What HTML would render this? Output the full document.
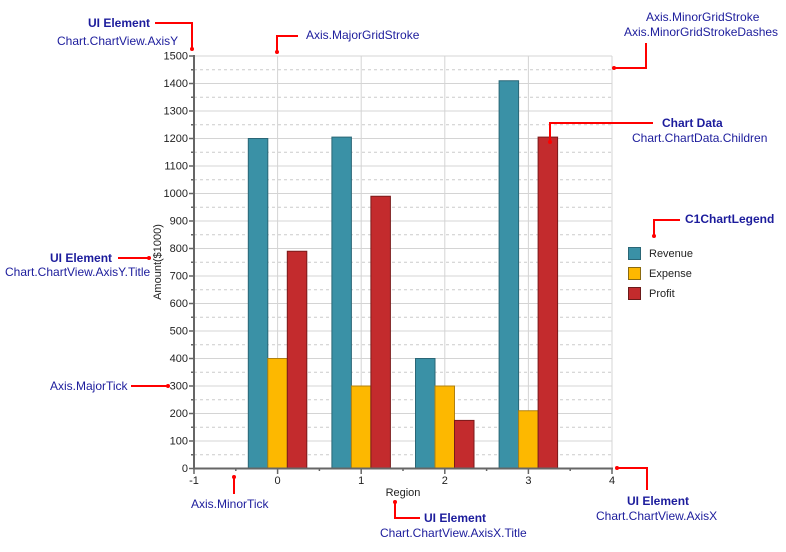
<!DOCTYPE html>
<html><head><meta charset="utf-8"><style>
html,body{margin:0;padding:0;background:#fff;}
svg{display:block;font-family:"Liberation Sans",sans-serif;}
.a{fill:#1c1c9c;font-size:12px;}
.b{fill:#1c1c9c;font-size:12px;font-weight:bold;}
.t{fill:#222;font-size:11px;}
.r{stroke:#f00;stroke-width:2;fill:none;}
</style></head><body>
<svg width="786" height="552" viewBox="0 0 786 552">
<g stroke="#ccc" stroke-width="1" stroke-dasharray="3,3">
<line x1="194" x2="612" y1="454.75" y2="454.75"/><line x1="194" x2="612" y1="427.25" y2="427.25"/><line x1="194" x2="612" y1="399.75" y2="399.75"/><line x1="194" x2="612" y1="372.25" y2="372.25"/><line x1="194" x2="612" y1="344.75" y2="344.75"/><line x1="194" x2="612" y1="317.25" y2="317.25"/><line x1="194" x2="612" y1="289.75" y2="289.75"/><line x1="194" x2="612" y1="262.25" y2="262.25"/><line x1="194" x2="612" y1="234.75" y2="234.75"/><line x1="194" x2="612" y1="207.25" y2="207.25"/><line x1="194" x2="612" y1="179.75" y2="179.75"/><line x1="194" x2="612" y1="152.25" y2="152.25"/><line x1="194" x2="612" y1="124.75" y2="124.75"/><line x1="194" x2="612" y1="97.25" y2="97.25"/><line x1="194" x2="612" y1="69.75" y2="69.75"/>
</g>
<g stroke="#d4d4d4" stroke-width="1">
<line x1="194" x2="612" y1="441" y2="441"/><line x1="194" x2="612" y1="413.5" y2="413.5"/><line x1="194" x2="612" y1="386" y2="386"/><line x1="194" x2="612" y1="358.5" y2="358.5"/><line x1="194" x2="612" y1="331" y2="331"/><line x1="194" x2="612" y1="303.5" y2="303.5"/><line x1="194" x2="612" y1="276" y2="276"/><line x1="194" x2="612" y1="248.5" y2="248.5"/><line x1="194" x2="612" y1="221" y2="221"/><line x1="194" x2="612" y1="193.5" y2="193.5"/><line x1="194" x2="612" y1="166" y2="166"/><line x1="194" x2="612" y1="138.5" y2="138.5"/><line x1="194" x2="612" y1="111" y2="111"/><line x1="194" x2="612" y1="83.5" y2="83.5"/><line x1="194" x2="612" y1="56" y2="56"/>
<line x1="277.6" x2="277.6" y1="56" y2="468"/><line x1="361.2" x2="361.2" y1="56" y2="468"/><line x1="444.8" x2="444.8" y1="56" y2="468"/><line x1="528.4" x2="528.4" y1="56" y2="468"/><line x1="612" x2="612" y1="56" y2="468"/>
</g>
<g stroke-width="1">
<g fill="#3a91a6" stroke="#2a6676">
<rect x="248.3" y="138.5" width="19.5" height="330"/><rect x="331.9" y="137.1" width="19.5" height="331.4"/><rect x="415.5" y="358.5" width="19.5" height="110"/><rect x="499.1" y="80.75" width="19.5" height="387.75"/>
</g>
<g fill="#fdb800" stroke="#b08010">
<rect x="267.8" y="358.5" width="19.5" height="110"/><rect x="351.4" y="386" width="19.5" height="82.5"/><rect x="435" y="386" width="19.5" height="82.5"/><rect x="518.6" y="410.75" width="19.5" height="57.75"/>
</g>
<g fill="#c32b2d" stroke="#7a1a1a">
<rect x="287.3" y="251.25" width="19.5" height="217.25"/><rect x="370.9" y="196.25" width="19.5" height="272.25"/><rect x="454.5" y="420.4" width="19.5" height="48.1"/><rect x="538.1" y="137.1" width="19.5" height="331.4"/>
</g>
</g>
<g stroke="#666" stroke-width="2">
<line x1="194" x2="194" y1="55" y2="469"/><line x1="193" x2="613" y1="468.5" y2="468.5"/>
</g>
<g stroke="#666" stroke-width="1.5">
<line x1="189" x2="194" y1="441" y2="441"/><line x1="189" x2="194" y1="413.5" y2="413.5"/><line x1="189" x2="194" y1="386" y2="386"/><line x1="189" x2="194" y1="358.5" y2="358.5"/><line x1="189" x2="194" y1="331" y2="331"/><line x1="189" x2="194" y1="303.5" y2="303.5"/><line x1="189" x2="194" y1="276" y2="276"/><line x1="189" x2="194" y1="248.5" y2="248.5"/><line x1="189" x2="194" y1="221" y2="221"/><line x1="189" x2="194" y1="193.5" y2="193.5"/><line x1="189" x2="194" y1="166" y2="166"/><line x1="189" x2="194" y1="138.5" y2="138.5"/><line x1="189" x2="194" y1="111" y2="111"/><line x1="189" x2="194" y1="83.5" y2="83.5"/><line x1="189" x2="194" y1="56" y2="56"/><line x1="189" x2="194" y1="468.5" y2="468.5"/>
<line x1="191" x2="194" y1="454.75" y2="454.75"/><line x1="191" x2="194" y1="427.25" y2="427.25"/><line x1="191" x2="194" y1="399.75" y2="399.75"/><line x1="191" x2="194" y1="372.25" y2="372.25"/><line x1="191" x2="194" y1="344.75" y2="344.75"/><line x1="191" x2="194" y1="317.25" y2="317.25"/><line x1="191" x2="194" y1="289.75" y2="289.75"/><line x1="191" x2="194" y1="262.25" y2="262.25"/><line x1="191" x2="194" y1="234.75" y2="234.75"/><line x1="191" x2="194" y1="207.25" y2="207.25"/><line x1="191" x2="194" y1="179.75" y2="179.75"/><line x1="191" x2="194" y1="152.25" y2="152.25"/><line x1="191" x2="194" y1="124.75" y2="124.75"/><line x1="191" x2="194" y1="97.25" y2="97.25"/><line x1="191" x2="194" y1="69.75" y2="69.75"/>
<line x1="194" x2="194" y1="468" y2="474"/><line x1="277.6" x2="277.6" y1="468" y2="474"/><line x1="361.2" x2="361.2" y1="468" y2="474"/><line x1="444.8" x2="444.8" y1="468" y2="474"/><line x1="528.4" x2="528.4" y1="468" y2="474"/><line x1="612" x2="612" y1="468" y2="474"/>
<line x1="235.8" x2="235.8" y1="468" y2="471"/><line x1="319.4" x2="319.4" y1="468" y2="471"/><line x1="403" x2="403" y1="468" y2="471"/><line x1="486.6" x2="486.6" y1="468" y2="471"/><line x1="570.2" x2="570.2" y1="468" y2="471"/>
</g>
<g class="t" text-anchor="end">
<text x="188" y="472">0</text><text x="188" y="444.5">100</text><text x="188" y="417">200</text><text x="188" y="389.5">300</text><text x="188" y="362">400</text><text x="188" y="334.5">500</text><text x="188" y="307">600</text><text x="188" y="279.5">700</text><text x="188" y="252">800</text><text x="188" y="224.5">900</text><text x="188" y="197">1000</text><text x="188" y="169.5">1100</text><text x="188" y="142">1200</text><text x="188" y="114.5">1300</text><text x="188" y="87">1400</text><text x="188" y="59.5">1500</text>
</g>
<g class="t" text-anchor="middle">
<text x="194" y="484">-1</text><text x="277.6" y="484">0</text><text x="361.2" y="484">1</text><text x="444.8" y="484">2</text><text x="528.4" y="484">3</text><text x="612" y="484">4</text>
<text x="403" y="496">Region</text>
<text transform="translate(161,262) rotate(-90)">Amount($1000)</text>
</g>
<rect x="628.5" y="247.5" width="12" height="12" fill="#3a91a6" stroke="#2a6676"/>
<rect x="628.5" y="267.5" width="12" height="12" fill="#fdb800" stroke="#8a6a10"/>
<rect x="628.5" y="287.5" width="12" height="12" fill="#c32b2d" stroke="#6a1a1a"/>
<g class="t"><text x="649" y="257">Revenue</text><text x="649" y="277">Expense</text><text x="649" y="297">Profit</text></g>
<g class="r">
<polyline points="155,23 192,23 192,49"/>
<polyline points="298,36 277,36 277,52"/>
<polyline points="646,43 646,68 614,68"/>
<polyline points="653,123 550,123 550,142"/>
<polyline points="680,220 654,220 654,236"/>
<polyline points="118,258 148,258"/>
<polyline points="131,386 168,386"/>
<polyline points="234,477 234,494"/>
<polyline points="395,502 395,518 420,518"/>
<polyline points="617,468 647,468 647,490"/>
</g>
<g fill="#f00">
<circle cx="192" cy="49" r="2"/><circle cx="277" cy="52" r="2"/><circle cx="614" cy="68" r="2"/><circle cx="550" cy="142" r="2"/><circle cx="654" cy="236" r="2"/><circle cx="149" cy="258" r="2"/><circle cx="168" cy="386" r="2"/><circle cx="234" cy="477" r="2"/><circle cx="395" cy="502" r="2"/><circle cx="617" cy="468" r="2"/>
</g>
<text class="b" x="88" y="27">UI Element</text>
<text class="a" x="57" y="45">Chart.ChartView.AxisY</text>
<text class="a" x="306" y="39">Axis.MajorGridStroke</text>
<text class="a" x="646" y="21">Axis.MinorGridStroke</text>
<text class="a" x="624" y="36">Axis.MinorGridStrokeDashes</text>
<text class="b" x="662" y="127">Chart Data</text>
<text class="a" x="632" y="142">Chart.ChartData.Children</text>
<text class="b" x="685" y="223">C1ChartLegend</text>
<text class="b" x="50" y="262">UI Element</text>
<text class="a" x="5" y="276">Chart.ChartView.AxisY.Title</text>
<text class="a" x="50" y="390">Axis.MajorTick</text>
<text class="a" x="191" y="508">Axis.MinorTick</text>
<text class="b" x="424" y="522">UI Element</text>
<text class="a" x="380" y="537">Chart.ChartView.AxisX.Title</text>
<text class="b" x="627" y="505">UI Element</text>
<text class="a" x="596" y="520">Chart.ChartView.AxisX</text>
</svg>
</body></html>
